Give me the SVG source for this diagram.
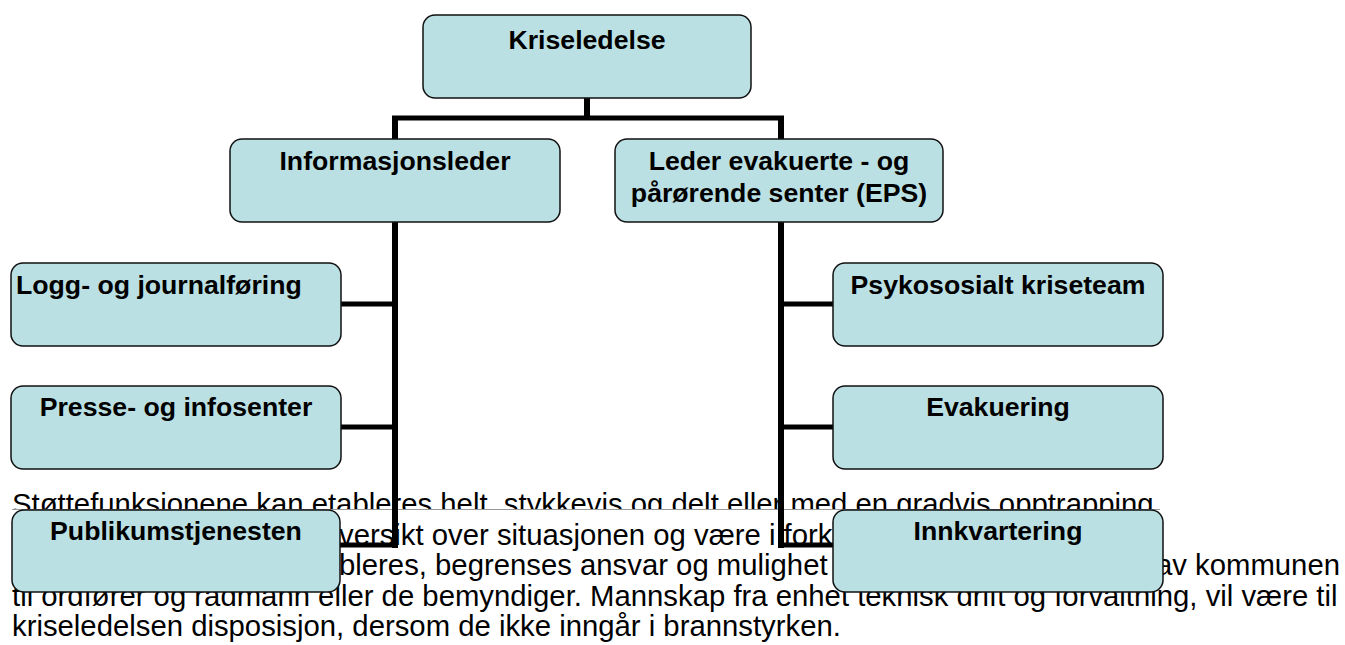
<svg xmlns="http://www.w3.org/2000/svg" width="1345" height="645" viewBox="0 0 1345 645">
<style>
.box{fill:#BBE0E3;stroke:#111;stroke-width:1.5}
.lbl{font-family:"Liberation Sans",Arial,sans-serif;font-weight:bold;font-size:26.67px;fill:#000;text-anchor:middle}
.body{font-family:"Liberation Sans",Arial,sans-serif;font-size:29.3px;fill:#000}
.v{stroke:#000;stroke-width:6;fill:none}
.h{stroke:#000;stroke-width:5;fill:none}
</style>
<defs>
<clipPath id="cl1"><rect x="0" y="480" width="1345" height="29"/></clipPath>
</defs>
<rect x="0" y="0" width="1345" height="645" fill="#fff"/>
<g id="bodytext">
<text class="body" x="12" y="514" clip-path="url(#cl1)">Støttefunksjonene kan etableres helt, stykkevis og delt eller med en gradvis opptrapping.</text>
<line x1="12" y1="509.5" x2="1160" y2="509.5" stroke="#999" stroke-width="1"/>
<text class="body" x="339" y="544.5">versikt over situasjonen og være i fork</text>
<text class="body" x="339" y="575">bleres, begrenses ansvar og mulighet</text>
<text class="body" x="1340" y="575" text-anchor="end">av kommunen</text>
<text class="body" x="12" y="605.5">til ordfører og rådmann eller de bemyndiger. Mannskap fra enhet teknisk drift og forvaltning, vil være til</text>
<text class="body" x="12" y="636">kriseledelsen disposisjon, dersom de ikke inngår i brannstyrken.</text>
</g>
<g id="connectors">
<path class="v" d="M587 98V118"/>
<path class="h" d="M392 118H784"/>
<path class="v" d="M395 118V139"/>
<path class="v" d="M781 118V139"/>
<path class="v" d="M395 222V548"/>
<path class="v" d="M781 222V548"/>
<path class="h" d="M341 304H398"/>
<path class="h" d="M341 427H398"/>
<path class="h" d="M340 545H398"/>
<path class="h" d="M778 304H833"/>
<path class="h" d="M778 427H833"/>
<path class="h" d="M778 545H833"/>
</g>
<g id="kriseledelse">
<rect class="box" x="423" y="15" width="328" height="83" rx="12"/>
<text class="lbl" x="587" y="49">Kriseledelse</text>
</g>
<g id="informasjonsleder">
<rect class="box" x="230" y="139" width="330" height="83" rx="12"/>
<text class="lbl" x="395" y="170">Informasjonsleder</text>
</g>
<g id="eps">
<rect class="box" x="615" y="139" width="328" height="83" rx="12"/>
<text class="lbl" x="779" y="170">Leder evakuerte - og</text>
<text class="lbl" x="779" y="202">pårørende senter (EPS)</text>
</g>
<g id="logg">
<rect class="box" x="11" y="263" width="330" height="83" rx="12"/>
<text class="lbl" x="16" y="294" style="text-anchor:start">Logg- og journalføring</text>
</g>
<g id="presse">
<rect class="box" x="11" y="386" width="330" height="83" rx="12"/>
<text class="lbl" x="176" y="416">Presse- og infosenter</text>
</g>
<g id="publikum">
<rect class="box" x="12" y="510" width="328" height="82" rx="12"/>
<text class="lbl" x="176" y="540">Publikumstjenesten</text>
</g>
<g id="psykososialt">
<rect class="box" x="833" y="263" width="330" height="83" rx="12"/>
<text class="lbl" x="998" y="294">Psykososialt kriseteam</text>
</g>
<g id="evakuering">
<rect class="box" x="833" y="386" width="330" height="83" rx="12"/>
<text class="lbl" x="998" y="416">Evakuering</text>
</g>
<g id="innkvartering">
<rect class="box" x="833" y="510" width="330" height="82" rx="12"/>
<text class="lbl" x="998" y="540">Innkvartering</text>
</g>
</svg>
